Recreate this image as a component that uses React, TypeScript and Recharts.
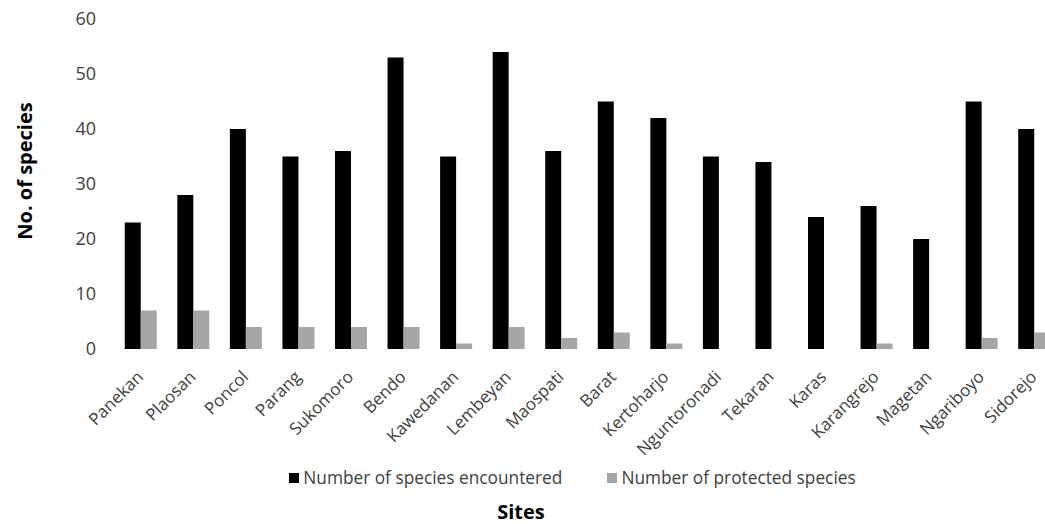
import React from 'react';
import { BarChart, Bar, XAxis, YAxis, Legend } from 'recharts';

const sites = [
  'Panekan', 'Plaosan', 'Poncol', 'Parang', 'Sukomoro', 'Bendo', 'Kawedanan', 'Lembeyan', 'Maospati',
  'Barat', 'Kertoharjo', 'Nguntoronadi', 'Tekaran', 'Karas', 'Karangrejo', 'Magetan', 'Ngariboyo', 'Sidorejo',
];
const encountered = [23, 28, 40, 35, 36, 53, 35, 54, 36, 45, 42, 35, 34, 24, 26, 20, 45, 40];
const protectedSp = [7, 7, 4, 4, 4, 4, 1, 4, 2, 3, 1, 0, 0, 0, 1, 0, 2, 3];
const yTicks = [0, 10, 20, 30, 40, 50, 60];
const seriesOrder = ['encountered', 'protectedSp'];

const data = sites.map((name, i) => ({
  name,
  encountered: encountered[i],
  protectedSp: protectedSp[i],
}));

const FONT = '"Open Sans", sans-serif';

const SiteTick = (props: any) => {
  const { x, y, payload } = props;
  return (
    <g transform={`translate(${x + 4},${y + 29})`}>
      <text transform="rotate(-45)" textAnchor="end" fill="#404040" fontSize={17} fontFamily={FONT}>
        {payload.value}
      </text>
    </g>
  );
};

const renderLegend = (props: any) => {
  const items = [...(props.payload || [])].sort(
    (a: any, b: any) => seriesOrder.indexOf(a.dataKey) - seriesOrder.indexOf(b.dataKey),
  );
  return (
    <div style={{ height: 60, width: 1045, fontFamily: FONT, paddingTop: 3, boxSizing: 'border-box' }}>
      <div style={{ display: 'flex', justifyContent: 'center', paddingLeft: 100, lineHeight: '22px' }}>
        {items.map((entry: any, i: number) => (
          <div key={i} style={{ display: 'flex', alignItems: 'center', marginRight: i === 0 ? 45 : 0 }}>
            <span style={{ width: 10, height: 10, background: entry.color, display: 'inline-block', marginRight: 4 }} />
            <span style={{ fontSize: 17.3, color: '#404040' }}>{entry.value}</span>
          </div>
        ))}
      </div>
    </div>
  );
};

export default function App() {
  return (
    <div style={{ position: 'absolute', left: 0, top: 0, width: 1045, height: 524, overflow: 'hidden', background: '#fff' }}>
      <BarChart
        width={1075}
        height={524}
        data={data}
        margin={{ top: 19, right: 15, left: 0, bottom: 0 }}
        barCategoryGap="20.5%"
        barGap={0}
      >
        <XAxis
          dataKey="name"
          interval={0}
          axisLine={false}
          tickLine={false}
          tickSize={0}
          tickMargin={0}
          height={115}
          tick={<SiteTick />}
          label={{
            value: 'Sites',
            position: 'insideBottom',
            offset: -55,
            dx: -66,
            fill: '#000',
            fontSize: 20,
            fontWeight: 'bold',
            fontFamily: FONT,
          }}
        />
        <YAxis
          width={114}
          domain={[0, 60]}
          ticks={yTicks}
          axisLine={false}
          tickLine={false}
          tickSize={0}
          tickMargin={18}
          tick={{ fill: '#404040', fontSize: 18, fontFamily: FONT }}
          label={{
            value: 'No. of species',
            angle: -90,
            position: 'center',
            dx: -32,
            dy: -13,
            fill: '#000',
            fontSize: 20,
            fontWeight: 'bold',
            fontFamily: FONT,
          }}
        />
        <Legend verticalAlign="bottom" content={renderLegend} wrapperStyle={{ left: 0, width: 1045 }} />
        <Bar dataKey="encountered" name="Number of species encountered" fill="#000000" isAnimationActive={false} />
        <Bar dataKey="protectedSp" name="Number of protected species" fill="#a6a6a6" isAnimationActive={false} />
      </BarChart>
    </div>
  );
}
